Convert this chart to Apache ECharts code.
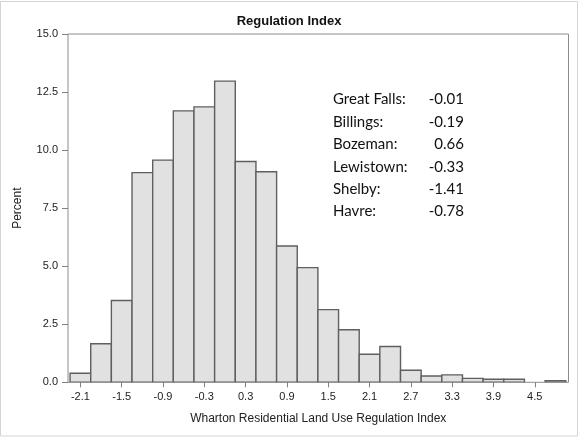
<!DOCTYPE html>
<html>
<head>
<meta charset="utf-8">
<script src="https://cdn.jsdelivr.net/npm/echarts@6/dist/echarts.min.js"></script>
<style>
  html, body { margin: 0; padding: 0; background: #fff; }
  #chart { width: 578px; height: 437px; }
</style>
</head>
<body>
<div id="chart"></div>
<script>
// Histogram bin midpoints (bin width 0.3) and percent of observations in each bin
const binCenters = [-2.1, -1.8, -1.5, -1.2, -0.9, -0.6, -0.3, 0.0, 0.3, 0.6, 0.9, 1.2,
                    1.5, 1.8, 2.1, 2.4, 2.7, 3.0, 3.3, 3.6, 3.9, 4.2, 4.5, 4.8];
const binPercents = [0.39, 1.66, 3.52, 9.03, 9.57, 11.69, 11.86, 12.97, 9.51, 9.07, 5.87, 4.94,
                     3.13, 2.26, 1.21, 1.54, 0.52, 0.27, 0.32, 0.17, 0.13, 0.13, 0, 0.07];
const binWidth = 0.3;

// Axis tick positions
const xTicks = [-2.1, -1.5, -0.9, -0.3, 0.3, 0.9, 1.5, 2.1, 2.7, 3.3, 3.9, 4.5];
const yTicks = [0, 2.5, 5, 7.5, 10, 12.5, 15];

// City index values listed in the note
const cityNames = ['Great Falls:', 'Billings:', 'Bozeman:', 'Lewistown:', 'Shelby:', 'Havre:'];
const cityValues = ['-0.01', '-0.19', '0.66', '-0.33', '-1.41', '-0.78'];

const chart = echarts.init(document.getElementById('chart'), null, { renderer: 'canvas' });

const barData = binCenters.map((c, i) => [c, binPercents[i]]);

const noteGraphics = [];
cityNames.forEach((name, i) => {
  noteGraphics.push({
    type: 'text', left: 333, top: 92 + i * 22.4,
    style: { text: name, font: '15px Lato, "Open Sans", sans-serif', fill: '#111' }
  });
  noteGraphics.push({
    type: 'text', right: 578 - 464, top: 92 + i * 22.4,
    style: { text: cityValues[i], font: '15px Lato, "Open Sans", sans-serif', fill: '#111', textAlign: 'right' }
  });
});

const tickColor = '#7f7f7f';

const option = {
  backgroundColor: '#fff',
  animation: false,
  title: {
    text: 'Regulation Index',
    left: 'center',
    top: 10,
    textStyle: { fontFamily: '"Liberation Sans", Arial, sans-serif', fontSize: 13, fontWeight: 'bold', color: '#111' }
  },
  grid: {
    left: 68, right: 9.5, top: 34, bottom: 54.7,
    show: true, borderColor: '#8c8c8c', borderWidth: 1, backgroundColor: '#fff'
  },
  xAxis: {
    type: 'value',
    min: -2.28, max: 4.99,
    name: 'Wharton Residential Land Use Regulation Index',
    nameLocation: 'middle',
    nameGap: 30,
    nameTextStyle: { fontFamily: '"Liberation Sans", Arial, sans-serif', fontSize: 12, color: '#222' },
    axisLine: { show: false, onZero: false },
    splitLine: { show: false },
    axisTick: { show: true, length: 5, customValues: xTicks, lineStyle: { color: tickColor, width: 1 } },
    axisLabel: {
      customValues: xTicks, margin: 9,
      formatter: v => v.toFixed(1),
      fontFamily: '"Liberation Sans", Arial, sans-serif', fontSize: 11, color: '#222'
    }
  },
  yAxis: {
    type: 'value',
    min: 0, max: 15,
    name: 'Percent',
    nameLocation: 'middle',
    nameGap: 44,
    nameRotate: 90,
    nameTextStyle: { fontFamily: '"Liberation Sans", Arial, sans-serif', fontSize: 12, color: '#222' },
    axisLine: { show: false, onZero: false },
    splitLine: { show: false },
    axisTick: { show: true, length: 6, customValues: yTicks, lineStyle: { color: tickColor, width: 1 } },
    axisLabel: {
      customValues: yTicks, margin: 10,
      formatter: v => v.toFixed(1),
      fontFamily: '"Liberation Sans", Arial, sans-serif', fontSize: 11, color: '#222'
    }
  },
  series: [{
    type: 'custom',
    data: barData,
    clip: true,
    renderItem: function (params, api) {
      const c = api.value(0), v = api.value(1);
      if (!(v > 0)) return null;
      const p0 = api.coord([c - binWidth / 2, v]);
      const p1 = api.coord([c + binWidth / 2, 0]);
      return {
        type: 'rect',
        shape: { x: p0[0], y: p0[1], width: p1[0] - p0[0], height: p1[1] - p0[1] },
        style: { fill: '#e1e1e1', stroke: '#5f5f5f', lineWidth: 1.4 }
      };
    }
  }],
  graphic: [
    {
      type: 'rect', silent: true, z: -10,
      shape: { x: 0.5, y: 1.5, width: 577, height: 434.5 },
      style: { fill: 'none', stroke: '#d4d4d4', lineWidth: 1 }
    }
  ].concat(noteGraphics)
};

chart.setOption(option);
</script>
</body>
</html>
